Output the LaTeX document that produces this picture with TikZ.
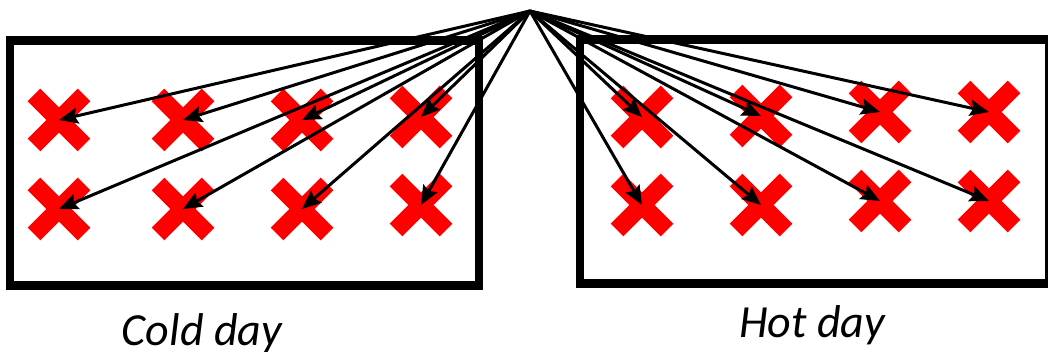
\documentclass[tikz,border=0pt]{standalone}
\usepackage{fontspec}
\setmainfont{Carlito}
\usepackage{tikz}
\usetikzlibrary{arrows.meta}

\begin{document}
\begin{tikzpicture}[
    x=1pt, y=-1pt,
    box/.style={draw=black, line width=8.5pt},
    xmark/.pic={\draw[red, line width=18pt] (-25,-25) -- (25,25) (-25,25) -- (25,-25);},
    arrow/.style={line width=3pt, -{Stealth[length=19pt, width=16pt, inset=3pt]}, color=black},
    daylabel/.style={anchor=base, font=\fontsize{46}{50}\selectfont\itshape, text=black, inner sep=0pt}
]
\useasboundingbox (0,0) rectangle (1048,352);

% the two days
\draw[box] (10,40.5) rectangle (479,285.5);
\draw[box] (580,39.5) rectangle (1049,283.5);

% cold day points
\coordinate (c1) at (59,120);
\coordinate (c2) at (183,120);
\coordinate (c3) at (302,120);
\coordinate (c4) at (421,117);
\coordinate (c5) at (59,209);
\coordinate (c6) at (183,209);
\coordinate (c7) at (302,209);
\coordinate (c8) at (421,205);

% hot day points
\coordinate (h1) at (642,117);
\coordinate (h2) at (761,116);
\coordinate (h3) at (880,112);
\coordinate (h4) at (989,112);
\coordinate (h5) at (642,205);
\coordinate (h6) at (761,205);
\coordinate (h7) at (880,201);
\coordinate (h8) at (989,201);

\pic at (c1) {xmark};
\pic at (c2) {xmark};
\pic at (c3) {xmark};
\pic at (c4) {xmark};
\pic at (c5) {xmark};
\pic at (c6) {xmark};
\pic at (c7) {xmark};
\pic at (c8) {xmark};
\pic at (h1) {xmark};
\pic at (h2) {xmark};
\pic at (h3) {xmark};
\pic at (h4) {xmark};
\pic at (h5) {xmark};
\pic at (h6) {xmark};
\pic at (h7) {xmark};
\pic at (h8) {xmark};

\coordinate (top) at (530,11);

\draw[arrow] (top) -- (c1);
\draw[arrow] (top) -- (c2);
\draw[arrow] (top) -- (c3);
\draw[arrow] (top) -- (c4);
\draw[arrow] (top) -- (c5);
\draw[arrow] (top) -- (c6);
\draw[arrow] (top) -- (c7);
\draw[arrow] (top) -- (c8);
\draw[arrow] (top) -- (h1);
\draw[arrow] (top) -- (h2);
\draw[arrow] (top) -- (h3);
\draw[arrow] (top) -- (h4);
\draw[arrow] (top) -- (h5);
\draw[arrow] (top) -- (h6);
\draw[arrow] (top) -- (h7);
\draw[arrow] (top) -- (h8);

\node[daylabel] (cold) at (202,345) {Cold day};
\node[daylabel] (hot) at (812,337) {Hot day};
\end{tikzpicture}
\end{document}
